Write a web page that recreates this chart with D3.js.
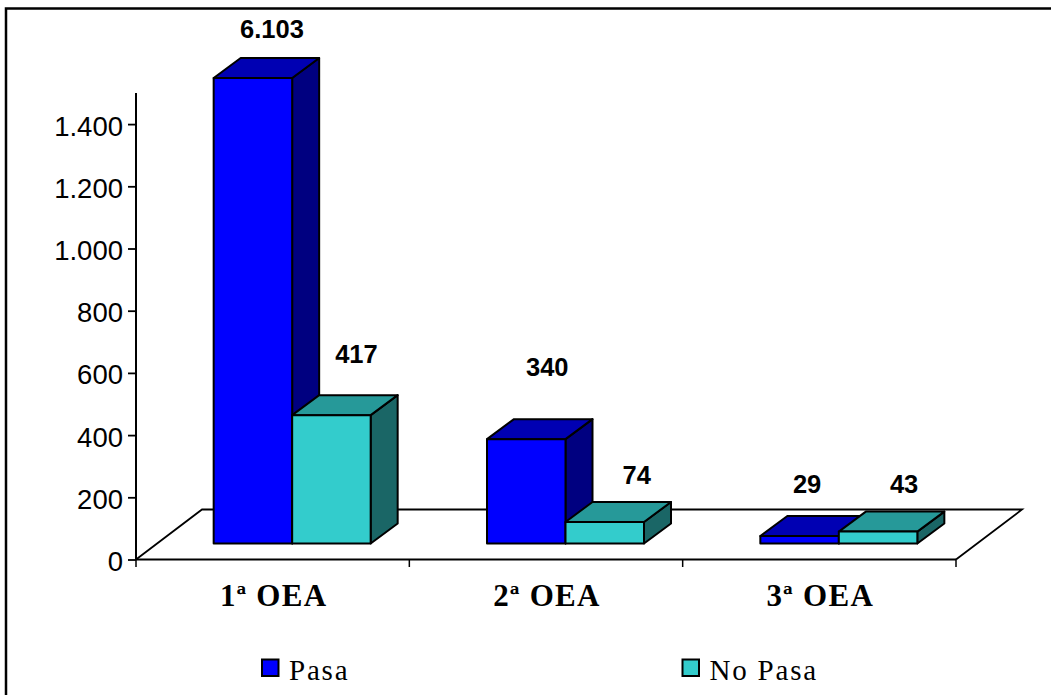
<!DOCTYPE html>
<html><head><meta charset="utf-8">
<style>html,body{margin:0;padding:0;background:#fff;overflow:hidden}svg{display:block}</style>
<script src="https://cdn.jsdelivr.net/npm/d3@7/dist/d3.min.js"></script></head>
<body><svg id="c" width="1051" height="695"></svg>
<script>
const categories = ["1ª OEA","2ª OEA","3ª OEA"];
const seriesNames = ["Pasa","No Pasa"];
const pasa = [6103,340,29];
const noPasa = [417,74,43];
const pasaLabels = ["6.103","340","29"];
const noPasaLabels = ["417","74","43"];
const ticks = [0,200,400,600,800,1000,1200,1400];
const axisMax = 1500;
const front = ["#0000ff","#33cccc"], topC = ["#0000b3","#269999"], side = ["#000080","#1a6666"];
// label offsets from each bar's centre/top: [series][category]
const labelOffX = [[19,21,7.5],[25,32,26]];
const labelOffY = [[40,63,43],[52,38,39]];

const svg = d3.select("#c");
const fmt = v => d3.format(",")(v).replace(/,/g,".");
const serif = "'Liberation Serif','DejaVu Serif',serif", sans = "'Liberation Sans',Arial,sans-serif";

svg.append("rect").attr("x",6).attr("y",8.5).attr("width",1100).attr("height",740).attr("fill","#fff").attr("stroke","#000").attr("stroke-width",2.5);

const x = d3.scaleBand().domain(categories).range([136,956]);
const y = d3.scaleLinear().domain([0,axisMax]).range([559.5,93]);
const barY = d3.scaleLinear().domain([0,axisMax]).range([545,78]);
const baseY = barY(0)-1.5;
const dx = 27, dy = 20, fdx = 66, fdy = 50, barW = 78.5, shift = 19.5;
const bw = x.bandwidth();

svg.append("path").attr("d",d3.line()([[136,559.5],[136+fdx,559.5-fdy],[956+fdx,559.5-fdy],[956,559.5]])).attr("fill","#fff").attr("stroke","#000").attr("stroke-width",1.8);

const yAxis = d3.axisLeft(y).tickValues(ticks).tickFormat(fmt).tickSize(8).tickPadding(5);
const gy = svg.append("g").attr("transform","translate(136,0)").call(yAxis);
gy.selectAll("text").attr("font-family",sans).attr("font-size",27.5).attr("fill","#000").attr("dy","0.4em");
gy.selectAll("line").attr("stroke","#000").attr("stroke-width",1.8);
gy.select(".domain").attr("stroke","#000").attr("stroke-width",2).attr("d","M0,93V559.5");
const gx = svg.append("g").attr("transform","translate(0,559.5)").call(d3.axisBottom(x).tickValues([]).tickSize(0));
gx.select(".domain").attr("stroke","#000").attr("stroke-width",2).attr("d","M136,0H956");
svg.selectAll("line.xt").data(d3.range(categories.length+1)).join("line").attr("class","xt")
  .attr("x1",i=>136+i*bw).attr("x2",i=>136+i*bw).attr("y1",559.5).attr("y2",567).attr("stroke","#000").attr("stroke-width",1.5);
svg.selectAll("text.cat").data(categories).join("text").attr("class","cat")
  .attr("x",d=>x(d)+bw/2+1).attr("y",606).attr("text-anchor","middle")
  .attr("font-family",serif).attr("font-weight","bold").attr("font-size",31).attr("letter-spacing",1.3).attr("fill","#000").text(d=>d);

const series = [pasa,noPasa], labels=[pasaLabels,noPasaLabels];
categories.forEach((c,ci)=>{
  const x0 = x(c)+bw/2 + shift - barW;
  series.forEach((s,si)=>{
    const bx = x0 + si*barW;
    const v = Math.min(s[ci],axisMax), t = barY(v);
    const g = svg.append("g").attr("stroke","#000").attr("stroke-width",2).attr("stroke-linejoin","round");
    g.append("path").attr("fill",side[si]).attr("d",d3.line()([[bx+barW,t],[bx+barW+dx,t-dy],[bx+barW+dx,baseY-dy],[bx+barW,baseY]])+"Z");
    g.append("path").attr("fill",topC[si]).attr("d",d3.line()([[bx,t],[bx+dx,t-dy],[bx+barW+dx,t-dy],[bx+barW,t]])+"Z");
    g.append("rect").attr("fill",front[si]).attr("x",bx).attr("y",t).attr("width",barW).attr("height",baseY-t);
    svg.append("text").attr("x",bx+barW/2+labelOffX[si][ci]).attr("y",t-labelOffY[si][ci]).attr("text-anchor","middle")
      .attr("font-family",sans).attr("font-weight","bold").attr("font-size",25.5).attr("fill","#000").text(labels[si][ci]);
  });
});

const lx=[262,682.5];
seriesNames.forEach((n,i)=>{
  svg.append("rect").attr("x",lx[i]).attr("y",659.5).attr("width",16.5).attr("height",16.5).attr("fill",front[i]).attr("stroke","#000").attr("stroke-width",2);
  svg.append("text").attr("x",lx[i]+27).attr("y",680).attr("font-family",serif).attr("font-size",29).attr("letter-spacing",1.8).attr("fill","#000").text(n);
});
</script></body></html>
